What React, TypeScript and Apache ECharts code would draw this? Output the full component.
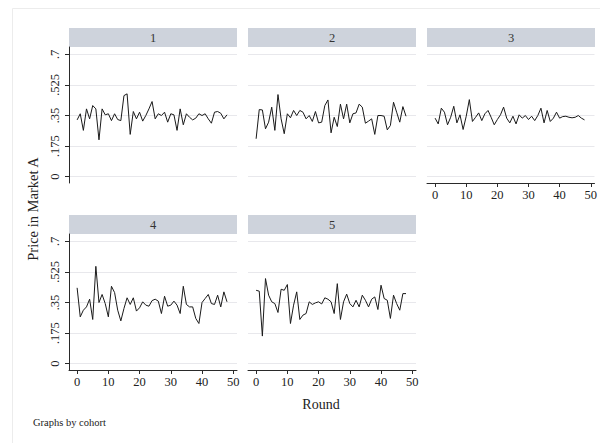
import React, { useEffect, useRef } from "react";
import * as echarts from "echarts";

const rounds = [0, 1, 2, 3, 4, 5, 6, 7, 8, 9, 10, 11, 12, 13, 14, 15, 16, 17, 18, 19, 20, 21, 22, 23, 24, 25, 26, 27, 28, 29, 30, 31, 32, 33, 34, 35, 36, 37, 38, 39, 40, 41, 42, 43, 44, 45, 46, 47, 48];

const cohortNames = ["1", "2", "3", "4", "5"];

const cohort1 = [
  0.325, 0.36, 0.265, 0.388, 0.331, 0.407, 0.388, 0.211, 0.388, 0.354,
  0.36, 0.321, 0.36, 0.327, 0.321, 0.464, 0.474, 0.242, 0.373, 0.331,
  0.369, 0.318, 0.35, 0.388, 0.43, 0.331, 0.36, 0.35, 0.369, 0.312,
  0.36, 0.354, 0.265, 0.388, 0.297, 0.36, 0.34, 0.325, 0.335, 0.36,
  0.35, 0.36, 0.331, 0.306, 0.369, 0.373, 0.363, 0.331, 0.354,
];
const cohort2 = [
  0.217, 0.384, 0.382, 0.274, 0.312, 0.398, 0.265, 0.47, 0.331, 0.246,
  0.36, 0.337, 0.379, 0.35, 0.379, 0.369, 0.331, 0.35, 0.316, 0.373,
  0.308, 0.312, 0.407, 0.439, 0.251, 0.34, 0.287, 0.415, 0.331, 0.415,
  0.308, 0.36, 0.365, 0.415, 0.398, 0.306, 0.318, 0.331, 0.242, 0.35,
  0.35, 0.346, 0.268, 0.293, 0.426, 0.369, 0.312, 0.401, 0.346,
];
const cohort3 = [
  0.335, 0.302, 0.392, 0.369, 0.297, 0.34, 0.403, 0.308, 0.354, 0.27,
  0.346, 0.441, 0.316, 0.34, 0.365, 0.321, 0.36, 0.379, 0.34, 0.297,
  0.327, 0.354, 0.398, 0.335, 0.308, 0.346, 0.302, 0.354, 0.335, 0.35,
  0.327, 0.346, 0.321, 0.35, 0.392, 0.308, 0.379, 0.316, 0.335, 0.369,
  0.335, 0.344, 0.346, 0.34, 0.337, 0.34, 0.35, 0.335, 0.325,
];
const cohort4 = [
  0.434, 0.268, 0.306, 0.325, 0.369, 0.253, 0.557, 0.35, 0.396, 0.344,
  0.268, 0.443, 0.407, 0.306, 0.245, 0.316, 0.377, 0.339, 0.377, 0.301,
  0.32, 0.354, 0.335, 0.329, 0.361, 0.369, 0.358, 0.287, 0.386, 0.329,
  0.335, 0.358, 0.335, 0.287, 0.443, 0.339, 0.325, 0.325, 0.259, 0.23,
  0.35, 0.373, 0.396, 0.344, 0.339, 0.392, 0.325, 0.411, 0.354,
];
const cohort5 = [
  0.42, 0.415, 0.158, 0.487, 0.392, 0.354, 0.344, 0.293, 0.426, 0.42,
  0.453, 0.23, 0.335, 0.411, 0.253, 0.278, 0.287, 0.354, 0.339, 0.348,
  0.354, 0.342, 0.377, 0.369, 0.354, 0.287, 0.458, 0.253, 0.354, 0.398,
  0.344, 0.325, 0.363, 0.325, 0.392, 0.363, 0.325, 0.369, 0.382, 0.31,
  0.449, 0.373, 0.363, 0.259, 0.392, 0.344, 0.306, 0.401, 0.401,
];
const cohortValues = [cohort1, cohort2, cohort3, cohort4, cohort5];

const yTicks = [0, 0.175, 0.35, 0.525, 0.7];
const yTickLabels = ["0", ".175", ".35", ".525", ".7"];
const xTicks = [0, 10, 20, 30, 40, 50];

const yTitle = "Price in Market A";
const xTitle = "Round";
const note = "Graphs by cohort";

const FONT = "'Liberation Serif', 'Times New Roman', serif";

// layout of the five panels (pixels)
const PANEL_W = 168;
const PANEL_H = 136;
const STRIP_H = 19;
const panels = [
  { left: 69, top: 47, showY: true, showX: false },
  { left: 248, top: 47, showY: false, showX: false },
  { left: 427, top: 47, showY: false, showX: true },
  { left: 69, top: 234, showY: true, showX: true },
  { left: 248, top: 234, showY: false, showX: true },
];

export default function App() {
  const ref = useRef<HTMLDivElement>(null);

  useEffect(() => {
    if (!ref.current) return;
    const chart = echarts.init(ref.current, undefined, { renderer: "svg" });

    const grid = panels.map((p) => ({
      left: p.left,
      top: p.top,
      width: PANEL_W,
      height: PANEL_H,
      containLabel: false,
    }));

    const xAxis = panels.map((p, i) => ({
      type: "value",
      gridIndex: i,
      min: -2.6,
      max: 51.2,
      axisLine: { show: p.showX, onZero: false, lineStyle: { color: "#2a2a2a", width: 1 } },
      axisTick: {
        show: p.showX,
        customValues: xTicks,
        length: 4,
        lineStyle: { color: "#2a2a2a", width: 1 },
      },
      axisLabel: {
        show: p.showX,
        customValues: xTicks,
        margin: 5,
        color: "#222",
        fontFamily: FONT,
        fontSize: 12.5,
      },
      splitLine: { show: false },
    }));

    const yAxis = panels.map((p, i) => ({
      type: "value",
      gridIndex: i,
      min: -0.036,
      max: 0.742,
      axisLine: { show: p.showY, onZero: false, lineStyle: { color: "#2a2a2a", width: 1 } },
      axisTick: {
        show: p.showY,
        customValues: yTicks,
        length: 4,
        lineStyle: { color: "#2a2a2a", width: 1 },
      },
      axisLabel: {
        show: p.showY,
        customValues: yTicks,
        rotate: 90,
        margin: 8,
        color: "#222",
        fontFamily: FONT,
        fontSize: 12.5,
        formatter: (v: number) => {
          const k = yTicks.findIndex((t) => Math.abs(t - v) < 1e-9);
          return k >= 0 ? yTickLabels[k] : "";
        },
      },
      splitLine: { show: true, lineStyle: { color: "#e8e8ec", width: 1 } },
    }));

    const series = cohortValues.map((vals, i) => ({
      type: "line",
      name: cohortNames[i],
      xAxisIndex: i,
      yAxisIndex: i,
      data: rounds.map((r, k) => [r, vals[k]]),
      showSymbol: false,
      symbol: "none",
      lineStyle: { color: "#1a1a1a", width: 1 },
      silent: true,
    }));

    const graphic: any[] = [
      {
        type: "rect",
        shape: { x: 12.5, y: 8.5, width: 620, height: 460 },
        style: { fill: "none", stroke: "#ececec", lineWidth: 1 },
        silent: true,
        z: 0,
      },
    ];
    panels.forEach((p, i) => {
      graphic.push({
        type: "rect",
        shape: { x: p.left, y: p.top - STRIP_H, width: PANEL_W, height: STRIP_H },
        style: { fill: "#ced3dc" },
        silent: true,
      });
      graphic.push({
        type: "text",
        x: p.left + PANEL_W / 2,
        y: p.top - STRIP_H / 2,
        style: {
          text: cohortNames[i],
          fill: "#333",
          font: `12.5px ${FONT}`,
          textAlign: "center",
          textVerticalAlign: "middle",
        },
        silent: true,
      });
    });
    graphic.push({
      type: "text",
      x: 33,
      y: 209,
      rotation: Math.PI / 2,
      style: {
        text: yTitle,
        fill: "#222",
        font: `14.5px ${FONT}`,
        textAlign: "center",
        textVerticalAlign: "middle",
      },
      silent: true,
    });
    graphic.push({
      type: "text",
      x: 321,
      y: 404,
      style: {
        text: xTitle,
        fill: "#222",
        font: `14px ${FONT}`,
        textAlign: "center",
        textVerticalAlign: "middle",
      },
      silent: true,
    });
    graphic.push({
      type: "text",
      x: 33,
      y: 422,
      style: {
        text: note,
        fill: "#222",
        font: `10.5px ${FONT}`,
        textAlign: "left",
        textVerticalAlign: "middle",
      },
      silent: true,
    });

    chart.setOption({
      animation: false,
      backgroundColor: "#ffffff",
      grid,
      xAxis,
      yAxis,
      series,
      graphic,
    } as any);

    return () => chart.dispose();
  }, []);

  return (
    <div
      ref={ref}
      style={{ position: "fixed", left: 0, top: 0, width: 600, height: 443 }}
    />
  );
}
